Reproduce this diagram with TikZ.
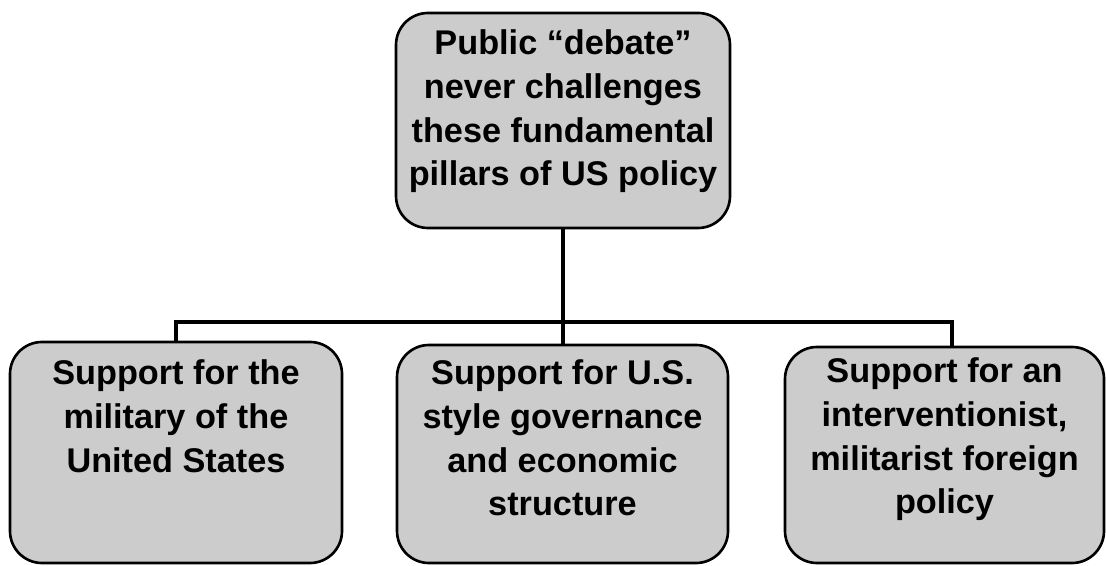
\documentclass[tikz,border=0pt]{standalone}
\usepackage{fontspec}
\setmainfont{Liberation Sans}

\begin{document}
\begin{tikzpicture}[
    pillar/.style={draw, line width=1.5pt, rounded corners=0.64cm, fill=black!20,
      inner sep=0pt, font=\fontsize{19.5}{24.8}\bfseries\selectfont},
    link/.style={line width=2.3pt}
  ]
    \useasboundingbox (0,0) rectangle (22.12,11.32);
    \node[pillar] (debate) at (11.26,8.91) {\parbox[c][4.3cm][t]{6.68cm}{\centering
      \rule{0pt}{0.84cm}Public “debate”\\ never challenges\\ these fundamental\\ pillars of US policy}};
    \node[pillar] (military) at (3.52,2.27) {\parbox[c][4.42cm][t]{6.64cm}{\centering
      \rule{0pt}{0.86cm}Support for the\\ military of the\\ United States}};
    \node[pillar] (economy) at (11.25,2.24) {\parbox[c][4.36cm][t]{6.62cm}{\centering
      \rule{0pt}{0.8cm}Support for U.S.\\ style governance\\ and economic\\ structure}};
    \node[pillar] (foreign) at (18.89,2.22) {\parbox[c][4.32cm][t]{6.38cm}{\centering
      \rule{0pt}{0.72cm}Support for an\\ interventionist,\\ militarist foreign\\ policy}};
    \coordinate (bus) at (11.26,4.88);
    \draw[link] (debate) -- (bus);
    \draw[link] (military.north) |- (bus) -| ([xshift=0.15cm]foreign.north);
    \draw[link] (bus) -- (bus |- economy.north);
  \end{tikzpicture}
\end{document}
